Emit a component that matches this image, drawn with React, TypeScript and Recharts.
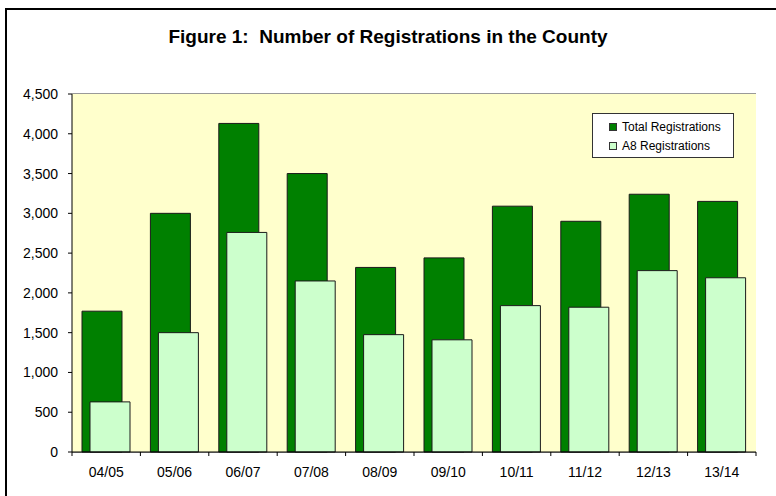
import React from "react";
import {
  BarChart,
  Bar,
  XAxis,
  YAxis,
  CartesianGrid,
  Legend,
} from "recharts";

const years = ["04/05", "05/06", "06/07", "07/08", "08/09", "09/10", "10/11", "11/12", "12/13", "13/14"];
const totalRegs = [1770, 3000, 4130, 3500, 2320, 2440, 3090, 2900, 3240, 3150];
const a8Regs = [630, 1500, 2760, 2150, 1475, 1410, 1840, 1820, 2280, 2190];
const yTicks = [0, 500, 1000, 1500, 2000, 2500, 3000, 3500, 4000, 4500];

const data = years.map((name, i) => ({
  name,
  total: totalRegs[i],
  a8: a8Regs[i],
}));

const font = "'Liberation Sans', Arial, sans-serif";
const band = 68.4;

// category label in the middle, tick marks on the band edges
const XTick = (props: any) => {
  const { x, y, payload, index } = props;
  const left = x - band / 2;
  return (
    <g>
      <line x1={left} y1={y - 8} x2={left} y2={y - 4} stroke="#000" />
      {index === years.length - 1 && (
        <line x1={left + band} y1={y - 8} x2={left + band} y2={y - 4} stroke="#000" />
      )}
      <text x={x} y={y + 17} textAnchor="middle" fill="#000" fontSize={14} fontFamily={font}>
        {payload.value}
      </text>
    </g>
  );
};

const LegendBox = () => (
  <div
    style={{
      width: 142,
      height: 45,
      background: "#fff",
      border: "1px solid #333",
      fontFamily: font,
      fontSize: 12,
      color: "#000",
      boxSizing: "border-box",
      paddingLeft: 16,
      paddingTop: 3,
    }}
  >
    {[
      { label: "Total Registrations", color: "#008000" },
      { label: "A8 Registrations", color: "#ccffcc" },
    ].map((e) => (
      <div key={e.label} style={{ display: "flex", alignItems: "center", height: 19 }}>
        <span
          style={{
            width: 6,
            height: 6,
            background: e.color,
            border: "1px solid #333",
            marginRight: 5,
          }}
        />
        {e.label}
      </div>
    ))}
  </div>
);

export default function App() {
  return (
    <div
      style={{
        position: "absolute",
        left: 0,
        top: 0,
        width: 776,
        height: 496,
        overflow: "hidden",
        background: "#fff",
      }}
    >
      <div
        style={{
          position: "absolute",
          left: 5,
          top: 8,
          width: 800,
          height: 600,
          border: "2px solid #000",
        }}
      />
      <div
        style={{
          position: "absolute",
          left: 0,
          top: 26,
          width: 776,
          textAlign: "center",
          fontFamily: "'Liberation Sans Narrow', 'Liberation Sans', sans-serif",
          fontWeight: "bold",
          fontSize: 19,
          color: "#000",
          whiteSpace: "pre",
        }}
      >
        {"Figure 1:  Number of Registrations in the County"}
      </div>
      <div style={{ position: "absolute", left: 0, top: 0 }}>
        <BarChart
          width={776}
          height={496}
          data={data}
          margin={{ top: 94, right: 20, left: 0, bottom: 0 }}
          barSize={40}
          barGap={-32}
        >
          <rect x={72} y={94} width={684} height={358} fill="#ffffcc" />
          <CartesianGrid vertical={false} stroke="#333" />
          <XAxis
            dataKey="name"
            height={44}
            tickLine={false}
            axisLine={{ stroke: "#000" }}
            tick={<XTick />}
            interval={0}
          />
          <YAxis
            width={72}
            domain={[0, 4500]}
            ticks={yTicks}
            interval={0}
            axisLine={{ stroke: "#000" }}
            tickLine={{ stroke: "#000" }}
            tickSize={4}
            tickMargin={10}
            tickFormatter={(v: number) => v.toLocaleString("en-US")}
            tick={{ fill: "#000", fontSize: 14, fontFamily: font }}
          />
          <Legend
            layout="vertical"
            align="center"
            verticalAlign="middle"
            wrapperStyle={{ left: 592, top: 113, width: 142 }}
            content={<LegendBox />}
          />
          <Bar dataKey="total" fill="#008000" stroke="#1a1a1a" strokeWidth={1} isAnimationActive={false} />
          <Bar dataKey="a8" fill="#ccffcc" stroke="#1a1a1a" strokeWidth={1} isAnimationActive={false} />
        </BarChart>
      </div>
    </div>
  );
}
